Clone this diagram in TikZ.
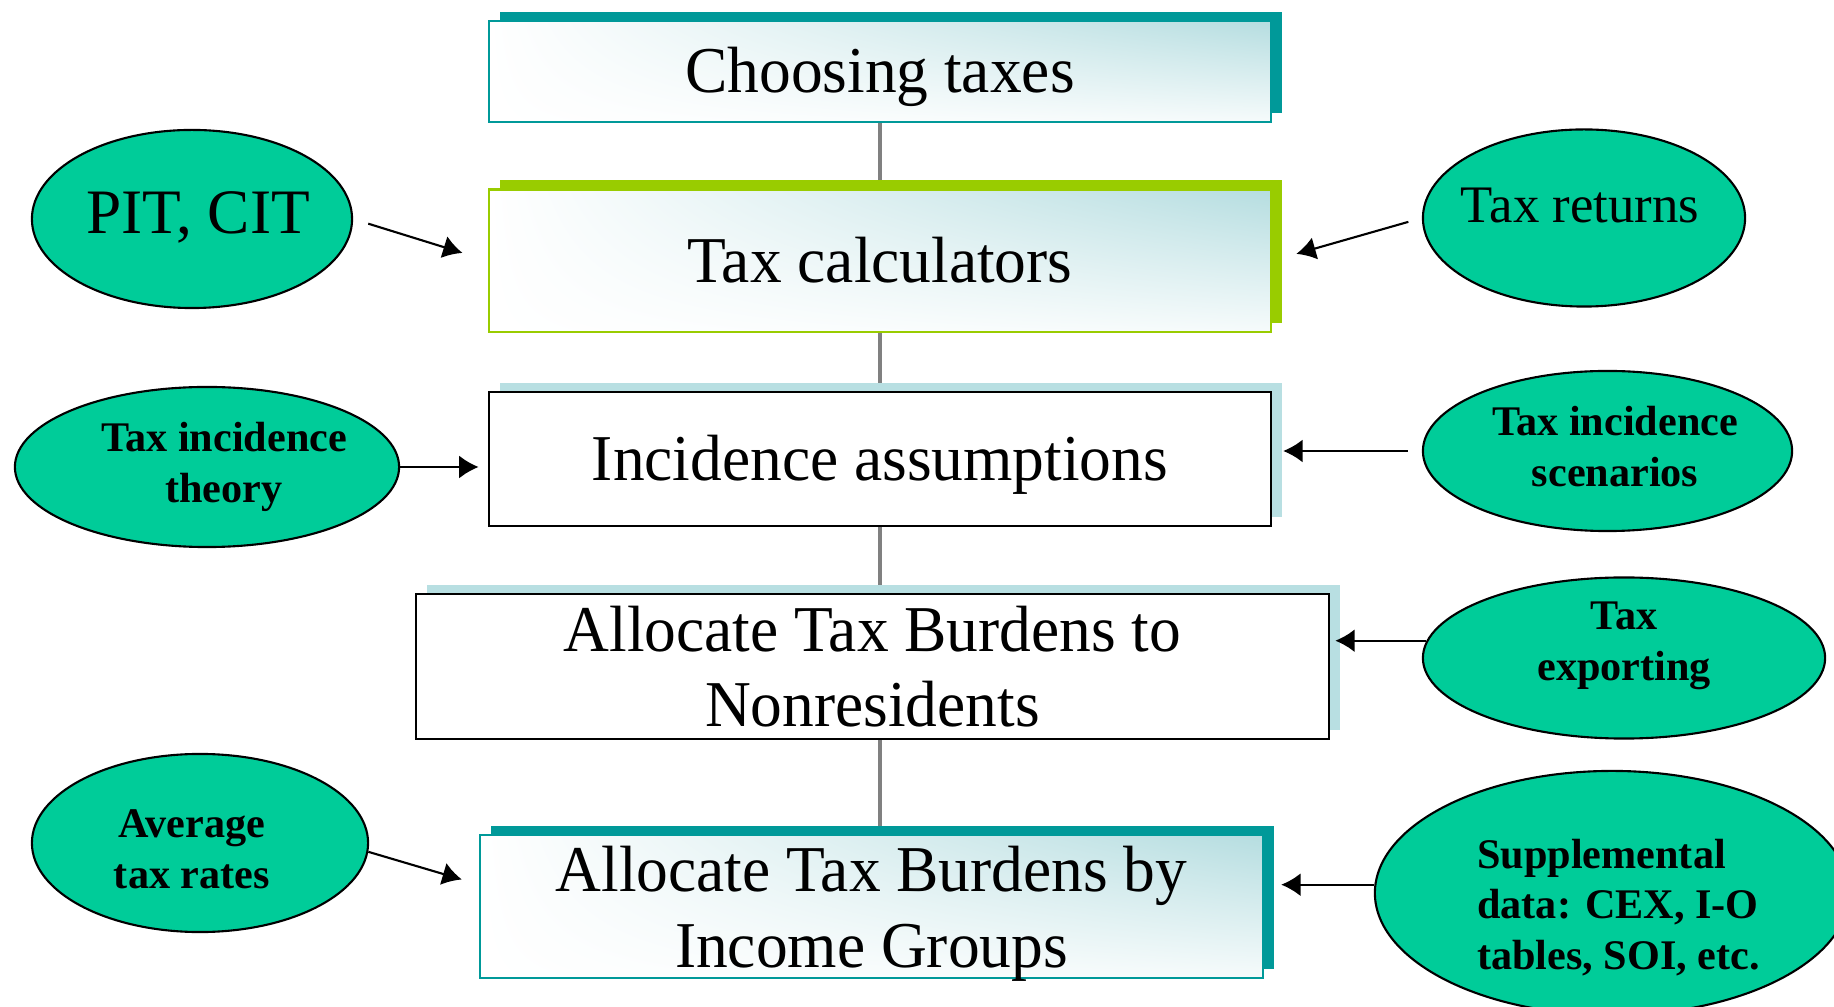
\documentclass[tikz,border=0pt]{standalone}
\usepackage{fontspec}
\setmainfont{Liberation Serif}
\newfontfamily\boxfont[FakeStretch=0.97]{Liberation Serif}
\usetikzlibrary{shapes.geometric,arrows.meta,shadows,shadings,calc,backgrounds}
\definecolor{tealc}{HTML}{009999}
\definecolor{limec}{HTML}{99CC00}
\definecolor{paleblue}{HTML}{B8DFE2}
\definecolor{ovalc}{HTML}{00CC99}
\definecolor{gradtop}{HTML}{B5DDE0}
\definecolor{linegray}{HTML}{808080}
% text in an oval: #1 = twice the horizontal shift, #2 = vertical shift
\newcommand{\otext}[3]{\makebox[0pt]{\raisebox{#2}[\height][\depth]{\hspace*{#1}#3}}}
\tikzset{
  stepbox/.style={rectangle, inner sep=0pt, align=center,
    font=\boxfont\fontsize{18.6pt}{21.5pt}\selectfont, line width=0.6pt},
  gradfill/.style={shade, upper left=white, lower left=white,
    upper right=gradtop, lower right=gradtop!12},
  boxshadow/.style={general shadow={fill=#1, shadow xshift=0.11cm, shadow yshift=0.09cm}},
  oval/.style={ellipse, draw=black, line width=0.6pt, fill=ovalc, inner sep=0pt},
  ovalbold/.style={font=\fontsize{12pt}{14.3pt}\selectfont\bfseries},
  arr/.style={-{Latex[length=5.5pt,width=6.5pt]}, line width=0.6pt, black},
}
\begin{document}
\begin{tikzpicture}[x=0.01cm, y=-0.01cm]
\useasboundingbox (0,0) rectangle (1834,1007);
\clip (0,0) rectangle (1834,1007);

% central boxes
\node[stepbox, boxshadow=tealc, gradfill, draw=tealc, minimum width=7.82cm,
  minimum height=1.01cm, text height=12.2pt, text depth=0pt] (choose) at (880,71.5) {Choosing taxes};
\node[stepbox, boxshadow=limec, gradfill, draw=limec, minimum width=7.82cm,
  minimum height=1.425cm, text height=12.2pt, text depth=0pt] (calc) at (880,260.75) {Tax calculators};
\node[stepbox, boxshadow=paleblue, fill=white, draw=black, minimum width=7.82cm,
  minimum height=1.34cm, text height=12.2pt, text depth=0pt] (incid) at (880,459) {Incidence assumptions};
\node[stepbox, boxshadow=paleblue, fill=white, draw=black, minimum width=9.13cm,
  minimum height=1.45cm] (nonres) at (872.5,666.5) {Allocate Tax Burdens to\\Nonresidents};
\node[stepbox, boxshadow=tealc, gradfill, draw=tealc, minimum width=7.83cm,
  minimum height=1.43cm] (inc) at (871.5,906.5)
  {Allocate Tax Burdens by\\\raisebox{0pt}[\height][0pt]{Income Groups}};

\begin{pgfonlayer}{background}
  \draw[linegray, line width=1.2pt] (choose.south) -- (choose.south |- inc.north);
\end{pgfonlayer}

% ovals
\node[oval, minimum width=3.2cm, minimum height=1.78cm, font=\fontsize{18pt}{20pt}\selectfont,
  text height=11.9pt, text depth=0pt] (pit) at (192,219) {\otext{3.4pt}{1.7pt}{PIT, CIT}};
\node[oval, minimum width=3.22cm, minimum height=1.77cm, font=\fontsize{15pt}{17pt}\selectfont,
  text height=9.9pt, text depth=0pt] (ret) at (1584,218) {\otext{-2.3pt}{3.6pt}{Tax returns}};
\node[oval, ovalbold, minimum width=3.84cm, minimum height=1.6cm] (theo) at (207,467)
  {\otext{9.7pt}{0pt}{\begin{tabular}{@{}c@{}}Tax incidence\\theory\end{tabular}}};
\node[oval, ovalbold, minimum width=3.69cm, minimum height=1.6cm] (scen) at (1607.5,451)
  {\otext{4.3pt}{0pt}{\begin{tabular}{@{}c@{}}Tax incidence\\scenarios\end{tabular}}};
\node[oval, ovalbold, minimum width=4.02cm, minimum height=1.61cm] (exp) at (1624,658)
  {\otext{0pt}{3.7pt}{\begin{tabular}{@{}c@{}}Tax\\exporting\end{tabular}}};
\node[oval, ovalbold, minimum width=3.36cm, minimum height=1.78cm] (avg) at (200,843)
  {\otext{-4.6pt}{-2.8pt}{\begin{tabular}{@{}c@{}}Average\\tax rates\end{tabular}}};
\node[oval, ovalbold, minimum width=4.74cm, minimum height=2.44cm] (supp) at (1612,893)
  {\otext{3.7pt}{-4.5pt}{\begin{tabular}{@{}l@{}}Supplemental\\data: CEX, I-O\\tables, SOI, etc.\end{tabular}}};

% connectors
\draw[arr, shorten <=4.5pt, shorten >=7.5pt] (pit.east) -- (calc.west);
\draw[arr, shorten <=4pt, shorten >=7.1pt] (ret.west) -- (calc.east);
\draw[arr, shorten >=2.6pt] (theo.east) -- (theo.east -| incid.west);
\draw[arr, shorten <=4pt, shorten >=3.1pt] (scen.west) -- (scen.west -| incid.east);
\draw[arr, shorten >=1.4pt] (exp.175) -- (exp.175 -| nonres.east);
\draw[arr, shorten >=5pt] (avg.-3) -- ($(inc.west)+(0,-22)$);
\draw[arr, shorten >=4.8pt] (supp.178) -- (supp.178 -| inc.east);
\end{tikzpicture}
\end{document}
